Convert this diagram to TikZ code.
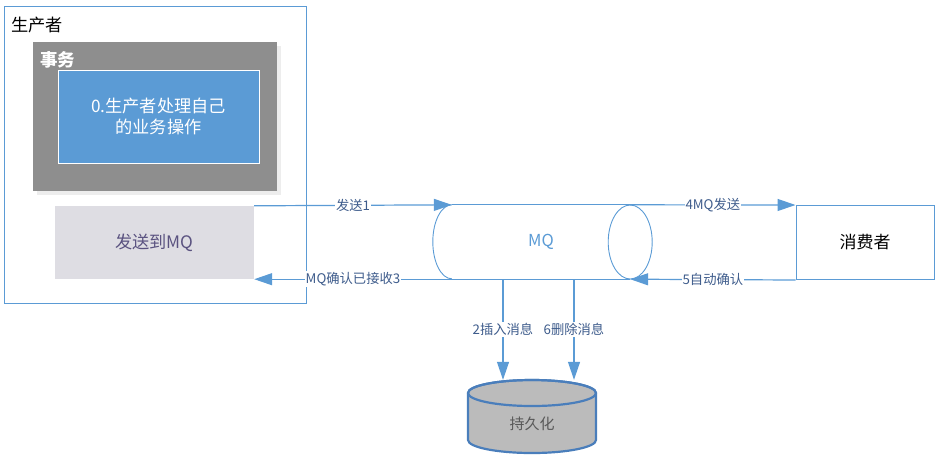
\documentclass[tikz,border=0pt]{standalone}
\usepackage{fontspec}
\setmainfont{Noto Sans CJK SC}
\usetikzlibrary{arrows.meta, shadows}
\definecolor{mqblue}{RGB}{91,155,213}
\definecolor{labelblue}{RGB}{62,92,140}
\definecolor{txgray}{RGB}{142,142,142}
\definecolor{sendgray}{RGB}{222,221,227}
\definecolor{sendtext}{RGB}{90,82,128}
\definecolor{dbborder}{RGB}{74,126,187}
\definecolor{dbfill}{RGB}{187,187,187}
\tikzset{producer box/.style={rectangle, draw=mqblue, line width=1pt, minimum width=302pt, minimum height=297pt},
  tx box/.style={rectangle, fill=txgray, minimum width=244pt, minimum height=149pt,
    general shadow={fill=black!7, shadow xshift=4pt, shadow yshift=-4pt}},
  work node/.style={rectangle, fill=mqblue, draw=white, line width=1pt, text=white, align=center,
    font=\fontsize{17.2}{21}\selectfont, minimum width=201pt, minimum height=93pt},
  send node/.style={rectangle, fill=sendgray, text=sendtext, font=\fontsize{17.2}{20}\selectfont,
    minimum width=199pt, minimum height=73pt},
  consumer node/.style={rectangle, draw=mqblue, line width=1pt, font=\fontsize{17}{20}\selectfont,
    minimum width=138pt, minimum height=74pt},
  title/.style={anchor=west, inner sep=0pt, font=\fontsize{17.2}{20}\selectfont},
  line label/.style={fill=white, inner sep=1pt, text=labelblue, font=\fontsize{13.3}{15}\selectfont},
  pipe/.style={draw=mqblue, line width=0.9pt},
  store/.style={draw=dbborder, line width=2.2pt, fill=dbfill},
  arrow/.style={-{Triangle[length=18pt, width=12pt]}, draw=mqblue, line width=1.2pt}
}
\begin{document}
\begin{tikzpicture}[x=1pt, y=-1pt]
  \useasboundingbox (0,0) rectangle (944,459);
  % Producer
  \node[producer box] (producer) at (155,155) {};
  \node[title] (producer title) at (11,25) {生产者};
  \node[tx box] (tx) at (155,116.5) {};
  \node[title, text=white, font=\fontsize{17.5}{20}\selectfont\bfseries] (tx title) at (40,60) {事务};
  \node[work node] (work) at (158.5,116.5) {0.生产者处理自己\\的业务操作};
  \node[send node] (send) at (154.5,242.5) {发送到MQ};
  % MQ
  \node[text=mqblue, font=\fontsize{16.5}{18}\selectfont, minimum width=178pt, minimum height=74pt] (mq) at (541,242) {MQ};
  \draw[pipe] (mq.north west) -- (mq.north east);
  \draw[pipe] (mq.south west) -- (mq.south east);
  \draw[pipe] (mq.north west) arc (270:90:19 and 37);
  \draw[pipe] (mq.east) ellipse (22 and 37);
  % Consumer
  \node[consumer node] (consumer) at (865,242.5) {消费者};
  % Storage
  \filldraw[store] (468,393) -- (468,440) arc (180:0:64 and 13) -- (596,393) arc (0:-180:64 and 13) -- cycle;
  \draw[store, fill=none] (532,393) ellipse (64 and 13);
  \node[text=black!65, font=\fontsize{15}{18}\selectfont, minimum width=128pt, minimum height=88pt] (db) at (532,424) {持久化};
  \coordinate (ins) at (503,279);
  \coordinate (del) at (574,279);
  % Connections
  \draw[arrow] (send.north east) -- node[line label] {发送1} (mq.north west);
  \draw[arrow] (mq.north east) -- node[line label] {4MQ发送} (consumer.north west);
  \draw[arrow] (consumer.south west) -- node[line label] {5自动确认} (mq.south east);
  \draw[arrow] (mq.south west) -- node[line label] {MQ确认已接收3} (send.south east);
  \draw[arrow] (ins) -- node[line label] {2插入消息} (ins |- db.north);
  \draw[arrow] (del) -- node[line label] {6删除消息} (del |- db.north);
\end{tikzpicture}
\end{document}
